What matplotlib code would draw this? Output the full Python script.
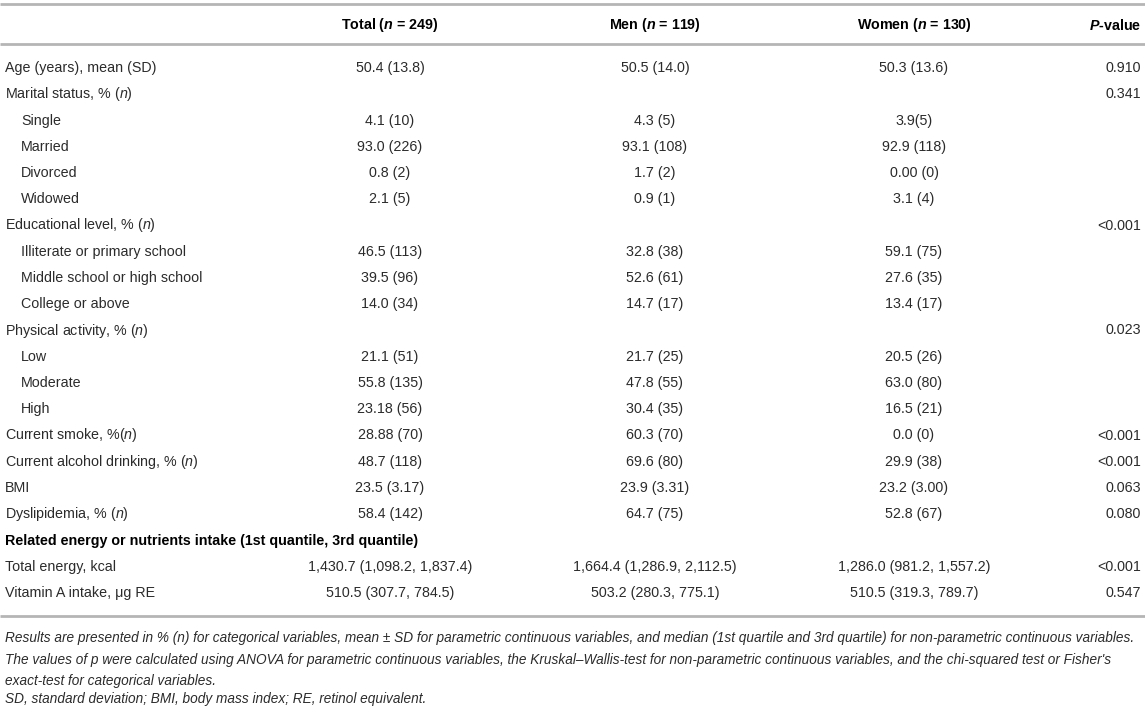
import matplotlib
matplotlib.use("Agg")
import matplotlib.pyplot as plt

# ---------------- data ----------------
col_headers = [r"Total ($\mathbf{n}$ = 249)", r"Men ($\mathbf{n}$ = 119)",
               r"Women ($\mathbf{n}$ = 130)", r"$\mathbf{P}$-value"]

row_labels = [
    "Age (years), mean (SD)",
    r"Marital status, % ($n$)",
    "Single", "Married", "Divorced", "Widowed",
    r"Educational level, % ($n$)",
    "Illiterate or primary school", "Middle school or high school", "College or above",
    r"Physical activity, % ($n$)",
    "Low", "Moderate", "High",
    r"Current smoke, %($n$)",
    r"Current alcohol drinking, % ($n$)",
    "BMI",
    r"Dyslipidemia, % ($n$)",
    "Related energy or nutrients intake (1st quantile, 3rd quantile)",
    "Total energy, kcal",
    "Vitamin A intake, \u03bcg RE",
]
row_kind = ["main", "main", "sub", "sub", "sub", "sub", "main", "sub", "sub", "sub",
            "main", "sub", "sub", "sub", "main", "main", "main", "main", "bold", "main", "main"]

total_vals = ["50.4 (13.8)", "", "4.1 (10)", "93.0 (226)", "0.8 (2)", "2.1 (5)", "",
              "46.5 (113)", "39.5 (96)", "14.0 (34)", "", "21.1 (51)", "55.8 (135)", "23.18 (56)",
              "28.88 (70)", "48.7 (118)", "23.5 (3.17)", "58.4 (142)", "",
              "1,430.7 (1,098.2, 1,837.4)", "510.5 (307.7, 784.5)"]
men_vals = ["50.5 (14.0)", "", "4.3 (5)", "93.1 (108)", "1.7 (2)", "0.9 (1)", "",
            "32.8 (38)", "52.6 (61)", "14.7 (17)", "", "21.7 (25)", "47.8 (55)", "30.4 (35)",
            "60.3 (70)", "69.6 (80)", "23.9 (3.31)", "64.7 (75)", "",
            "1,664.4 (1,286.9, 2,112.5)", "503.2 (280.3, 775.1)"]
women_vals = ["50.3 (13.6)", "", "3.9(5)", "92.9 (118)", "0.00 (0)", "3.1 (4)", "",
              "59.1 (75)", "27.6 (35)", "13.4 (17)", "", "20.5 (26)", "63.0 (80)", "16.5 (21)",
              "0.0 (0)", "29.9 (38)", "23.2 (3.00)", "52.8 (67)", "",
              "1,286.0 (981.2, 1,557.2)", "510.5 (319.3, 789.7)"]
p_vals = ["0.910", "0.341", "", "", "", "", "<0.001", "", "", "", "0.023", "", "", "",
          "<0.001", "<0.001", "0.063", "0.080", "", "<0.001", "0.547"]

footnotes = [
    "Results are presented in % (n) for categorical variables, mean \u00b1 SD for parametric continuous variables, and median (1st quartile and 3rd quartile) for non-parametric continuous variables.",
    "The values of p were calculated using ANOVA for parametric continuous variables, the Kruskal\u2013Wallis-test for non-parametric continuous variables, and the chi-squared test or Fisher's",
    "exact-test for categorical variables.",
    "SD, standard deviation; BMI, body mass index; RE, retinol equivalent.",
]

# ---------------- style ----------------
plt.rcParams['font.family'] = ['Liberation Sans', 'DejaVu Sans']
plt.rcParams['mathtext.fontset'] = 'custom'
plt.rcParams['mathtext.rm'] = 'Liberation Sans'
plt.rcParams['mathtext.it'] = 'Liberation Sans:italic'
plt.rcParams['mathtext.bf'] = 'Liberation Sans:italic:bold'

W, H = 1145, 706
fig = plt.figure(figsize=(W / 100, H / 100), dpi=100)
ax = fig.add_axes([0, 0, 1, 1])
ax.set_xlim(0, W)
ax.set_ylim(H, 0)
ax.axis('off')

FS = 10.3
TXT = '#2b2b2b'
RULE = '#b5b5b5'

x_label, x_sub = 5, 21
x_cols = [390, 655, 914]
x_p = 1141
y_head = 25
y_row0, pitch = 68, 26.25

# rules
for yy in (4, 44, 616):
    ax.plot([0, W], [yy, yy], color=RULE, lw=2.0, solid_capstyle='butt')

# header
for i, h in enumerate(col_headers[:3]):
    ax.text(x_cols[i], y_head, h, ha='center', va='center', fontsize=FS,
            fontweight='bold', color='black')
ax.text(x_p, y_head, col_headers[3], ha='right', va='center', fontsize=FS,
        fontweight='bold', color='black')

# body
for r, lab in enumerate(row_labels):
    y = y_row0 + r * pitch
    kind = row_kind[r]
    if kind == 'bold':
        ax.text(x_label, y, lab, ha='left', va='center', fontsize=FS,
                fontweight='bold', color='black')
    else:
        ax.text(x_sub if kind == 'sub' else x_label, y, lab, ha='left', va='center',
                fontsize=FS, color=TXT)
    for c, vals in enumerate((total_vals, men_vals, women_vals)):
        if vals[r]:
            ax.text(x_cols[c], y, vals[r], ha='center', va='center', fontsize=FS, color=TXT)
    if p_vals[r]:
        ax.text(x_p, y, p_vals[r], ha='right', va='center', fontsize=FS, color=TXT)

# footnotes: fit first line to width
renderer = fig.canvas.get_renderer()
probe = ax.text(0, 0, footnotes[0], fontsize=10, style='italic')
wpx = probe.get_window_extent(renderer).width
probe.remove()
fs_note = 10 * 1133 / wpx
fy = [638, 660, 681, 699]
for t, yy in zip(footnotes, fy):
    ax.text(x_label, yy, t, ha='left', va='center', fontsize=fs_note,
            style='italic', color=TXT)

fig.savefig('out.png', dpi=100)
